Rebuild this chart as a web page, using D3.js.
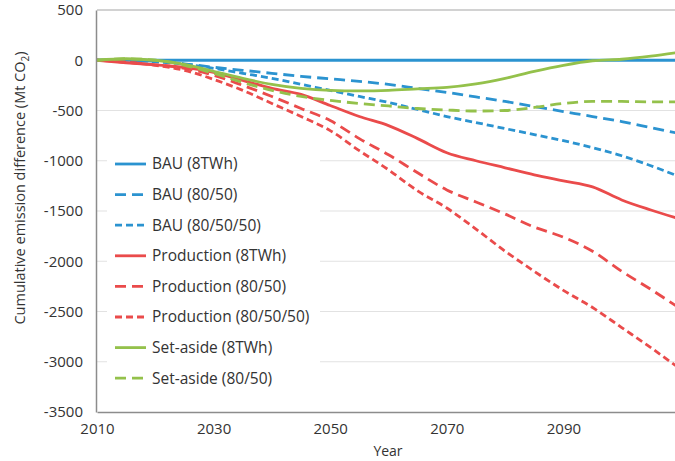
<!DOCTYPE html>
<html>
<head>
<meta charset="utf-8">
<script src="https://cdn.jsdelivr.net/npm/d3@7"></script>
<style>
  body { margin: 0; background: #fff; }
  svg text { font-family: "Open Sans", "Noto Sans", sans-serif; fill: #333; }
</style>
</head>
<body>
<div id="chart"></div>
<script>
// Years sampled every 5 years
const years = [2010, 2015, 2020, 2025, 2030, 2035, 2040, 2045, 2050, 2055, 2060,
               2065, 2070, 2075, 2080, 2085, 2090, 2095, 2100, 2105, 2110];

// Cumulative emission difference (Mt CO2)
const bau8 = [0, 0, 0, 0, 0, 0, 0, 0, 0, 0, 0, 0, 0, 0, 0, 0, 0, 0, 0, 0, 0];
const bau8050 = [0, 0, -10, -35, -70, -100, -130, -160, -185, -210, -240,
                 -280, -320, -365, -410, -460, -510, -560, -610, -670, -730];
const bau805050 = [0, -5, -15, -40, -80, -130, -180, -240, -300, -360, -420,
                   -490, -560, -620, -680, -740, -800, -870, -950, -1050, -1160];
const prod8 = [0, -25, -45, -70, -120, -200, -280, -340, -450, -560, -650,
               -780, -920, -1000, -1070, -1140, -1200, -1260, -1390, -1490, -1580];
const prod8050 = [0, -20, -45, -80, -150, -250, -360, -480, -600, -780, -940,
                  -1120, -1290, -1410, -1530, -1660, -1760, -1900, -2100, -2280, -2470];
const prod805050 = [0, -20, -50, -100, -190, -300, -430, -560, -700, -900, -1090,
                    -1300, -1470, -1680, -1900, -2100, -2290, -2460, -2660, -2860, -3070];
const set8 = [0, 15, 0, -40, -110, -180, -240, -280, -300, -305, -300,
              -285, -270, -235, -180, -110, -50, -5, 10, 40, 80];
const set8050 = [0, 15, 0, -50, -130, -220, -300, -360, -400, -430, -455,
                 -480, -495, -505, -500, -470, -430, -410, -410, -415, -415];

const xTicks = [2010, 2030, 2050, 2070, 2090];
const yTicks = [500, 0, -500, -1000, -1500, -2000, -2500, -3000, -3500];

const blue = "#2b93d0", red = "#ea4b4b", green = "#94c14b";
const longDash = "11,6", shortDash = "7,4";

const series = [
    { name: "BAU (8TWh)", values: bau8, color: blue, dash: null },
    { name: "BAU (80/50)", values: bau8050, color: blue, dash: longDash },
    { name: "BAU (80/50/50)", values: bau805050, color: blue, dash: shortDash },
    { name: "Production (8TWh)", values: prod8, color: red, dash: null },
    { name: "Production (80/50)", values: prod8050, color: red, dash: longDash },
    { name: "Production (80/50/50)", values: prod805050, color: red, dash: shortDash },
    { name: "Set-aside (8TWh)", values: set8, color: green, dash: null },
    { name: "Set-aside (80/50)", values: set8050, color: green, dash: longDash }
];

const width = 675, height = 461;
const svg = d3.select("#chart").append("svg")
    .attr("width", width)
    .attr("height", height);

const x = d3.scaleLinear().domain([2010, 2110]).range([97, 680]);
const y = d3.scaleLinear().domain([-3500, 500]).range([412, 10]);

// gridlines
svg.append("g")
    .selectAll("line")
    .data(yTicks.filter(t => t > -3500 && t < 500))
    .join("line")
    .attr("x1", x(2010)).attr("x2", width)
    .attr("y1", d => y(d)).attr("y2", d => y(d))
    .style("stroke", "#e2e2e2")
    .style("stroke-width", 1.2);

// top border
svg.append("line")
    .attr("x1", x(2010)).attr("x2", width)
    .attr("y1", y(500)).attr("y2", y(500))
    .style("stroke", "#a6a6a6").style("stroke-width", 1.2);

// legend background covers the gridlines
svg.append("rect")
    .attr("x", 107).attr("y", 148)
    .attr("width", 213).attr("height", 245)
    .style("fill", "#fff");

// lines
const line = d3.line()
    .x((d, i) => x(years[i]))
    .y(d => y(d))
    .curve(d3.curveMonotoneX);

svg.append("g")
    .selectAll("path")
    .data(series)
    .join("path")
    .attr("d", d => line(d.values))
    .style("fill", "none")
    .style("stroke", d => d.color)
    .style("stroke-width", 2.8)
    .style("stroke-dasharray", d => d.dash);

// axes
const xAxis = svg.append("g")
    .attr("transform", `translate(0,${y(-3500)})`)
    .call(d3.axisBottom(x).tickValues(xTicks).tickFormat(d3.format("d")).tickSize(0).tickPadding(11));
xAxis.select(".domain").style("stroke", "#8c8c8c").style("stroke-width", 1.5);
xAxis.selectAll("text").style("font-size", "15px");

const yAxis = svg.append("g")
    .attr("transform", `translate(${x(2010) - 1},0)`)
    .call(d3.axisLeft(y).tickValues(yTicks).tickFormat(d => String(d)).tickSize(0).tickPadding(13));
yAxis.select(".domain").style("stroke", "#8c8c8c").style("stroke-width", 1.5);
yAxis.selectAll("text").style("font-size", "15px");

// axis titles
svg.append("text")
    .attr("x", 388).attr("y", 456)
    .attr("text-anchor", "middle")
    .style("font-size", "14px")
    .text("Year");

const yTitle = svg.append("text")
    .attr("transform", "translate(25,188) rotate(-90)")
    .attr("text-anchor", "middle")
    .style("font-size", "14.5px");
yTitle.append("tspan").text("Cumulative emission difference  (Mt CO");
yTitle.append("tspan").attr("dy", 4).style("font-size", "10px").text("2");
yTitle.append("tspan").attr("dy", -4).text(")");

// legend
const legend = svg.append("g")
    .selectAll("g")
    .data(series)
    .join("g")
    .attr("transform", (d, i) => `translate(115,${164 + i * 30.6})`);

legend.append("line")
    .attr("x1", 0).attr("x2", 31)
    .style("stroke", d => d.color)
    .style("stroke-width", 2.8)
    .style("stroke-dasharray", d => d.dash);

legend.append("text")
    .attr("x", 37).attr("dy", "0.35em")
    .style("font-size", "15.5px")
    .text(d => d.name);
</script>
</body>
</html>
